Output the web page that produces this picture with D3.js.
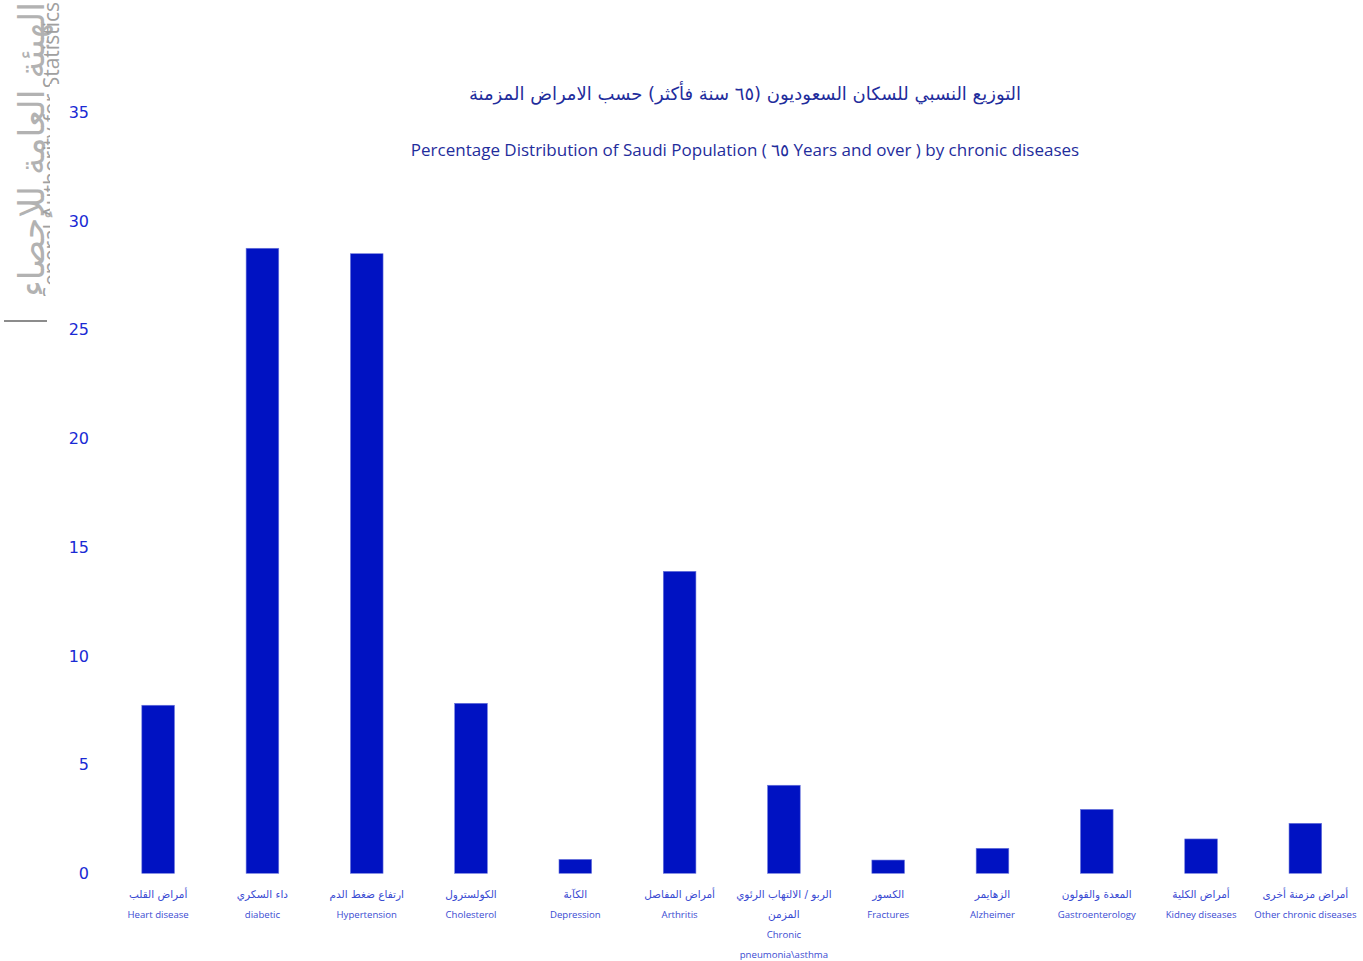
<!DOCTYPE html>
<html>
<head>
<meta charset="utf-8">
<title>Percentage Distribution of Saudi Population by chronic diseases</title>
<style>
  body { margin: 0; background: #fff; }
  svg { display: block; }
  .tick text { font-family: "DejaVu Sans", sans-serif; }
</style>
</head>
<body>
<svg width="1363" height="961"></svg>
<script src="https://d3js.org/d3.v7.min.js"></script>
<script>

// ---- data ----
var categoriesAr = [
  "أمراض القلب", "داء السكري", "ارتفاع ضغط الدم", "الكولسترول", "الكآبة",
  "أمراض المفاصل", "الربو / الالتهاب الرئوي\nالمزمن", "الكسور", "الزهايمر",
  "المعدة والقولون", "أمراض الكلية", "أمراض مزمنة أخرى"
];
var categoriesEn = [
  "Heart disease", "diabetic", "Hypertension", "Cholesterol", "Depression",
  "Arthritis", "Chronic\npneumonia\\asthma", "Fractures", "Alzheimer",
  "Gastroenterology", "Kidney diseases", "Other chronic diseases"
];
var values = [7.73, 28.75, 28.5, 7.82, 0.64, 13.89, 4.05, 0.61, 1.15, 2.94, 1.58, 2.3];
var yTicks = [0, 5, 10, 15, 20, 25, 30, 35];
var titleAr = "التوزيع النسبي للسكان السعوديون (٦٥ سنة فأكثر) حسب الامراض المزمنة";
var titleEn = "Percentage Distribution of Saudi Population ( ٦٥ Years and over )  by chronic diseases";

var svg = d3.select("svg");

var x = d3.scaleBand()
    .domain(d3.range(values.length))
    .range([106, 1357.5])
    .paddingInner(0.687)
    .paddingOuter(0.3435);

var y = d3.scaleLinear()
    .domain([0, 35])
    .range([873.3, 112.4]);

// logo on the left
var logo = svg.append("g");
var defs = svg.append("defs");
defs.append("clipPath").attr("id", "logoClip")
  .append("rect").attr("x", 0).attr("y", 0).attr("width", 64).attr("height", 296);
defs.append("clipPath").attr("id", "enClip")
  .call(function(c) {
    c.append("rect").attr("x", 0).attr("y", 0).attr("width", 64).attr("height", 84);
    c.append("rect").attr("x", 0).attr("y", 84).attr("width", 50).attr("height", 212);
  });
logo.append("g").attr("clip-path", "url(#logoClip)")
  .append("text")
    .attr("transform", "translate(44,2) rotate(-90)")
    .attr("text-anchor", "end")
    .style("font-family", "'DejaVu Sans', sans-serif")
    .style("font-size", "35px")
    .style("fill", "#b2b2b2")
    .text("الهيئة العامة للإحصاء");
logo.append("g").attr("clip-path", "url(#enClip)")
  .append("text")
    .attr("transform", "translate(59,2) rotate(-90)")
    .attr("text-anchor", "end")
    .style("font-family", "'Open Sans', sans-serif")
    .style("font-size", "21px")
    .style("fill", "#a0a0a0")
    .text("General Authority for Statistics");
logo.append("line")
    .attr("x1", 4).attr("x2", 47).attr("y1", 321).attr("y2", 321)
    .style("stroke", "#8c8c8c").style("stroke-width", 2);

// titles
svg.append("text")
    .attr("x", 745).attr("y", 100)
    .attr("text-anchor", "middle")
    .style("font-family", "'DejaVu Sans', sans-serif")
    .style("font-size", "18px")
    .style("fill", "#1f2d9c")
    .text(titleAr);
svg.append("text")
    .attr("x", 745).attr("y", 156)
    .attr("text-anchor", "middle")
    .style("font-family", "'Open Sans', sans-serif")
    .style("font-size", "17px")
    .style("fill", "#1f2d9c")
    .text(titleEn);

// y axis
var yAxis = svg.append("g")
    .attr("transform", "translate(89,0)")
    .call(d3.axisLeft(y).tickValues(yTicks).tickSize(0).tickPadding(0));
yAxis.select(".domain").remove();
yAxis.selectAll("text")
    .style("font-size", "16px")
    .style("fill", "#1a2ad4");

// bars
svg.append("g").selectAll("rect")
  .data(values)
  .enter().append("rect")
    .attr("x", function(d, i) { return x(i); })
    .attr("width", x.bandwidth())
    .attr("y", function(d) { return y(d); })
    .attr("height", function(d) { return y(0) - y(d); })
    .style("fill", "#0012c2")
    .style("stroke", "#6d78dc")
    .style("stroke-width", 0.6);

// category labels
var labels = svg.append("g").selectAll("text")
  .data(values)
  .enter().append("text")
    .attr("text-anchor", "middle")
    .style("font-size", "10px")
    .style("fill", "#3a4bd2");

labels.each(function(d, i) {
  var lines = categoriesAr[i].split("\n").concat(categoriesEn[i].split("\n"));
  var cx = x(i) + x.bandwidth() / 2;
  d3.select(this).selectAll("tspan")
    .data(lines)
    .enter().append("tspan")
      .attr("x", cx)
      .attr("y", function(l, k) { return 898 + k * 20; })
      .style("font-family", function(l) { return /[a-zA-Z]/.test(l) ? "'Open Sans', sans-serif" : "'DejaVu Sans', sans-serif"; })
      .style("font-size", function(l) { return /[a-zA-Z]/.test(l) ? "9.6px" : "10.5px"; })
      .text(function(l) { return l; });
});
</script>
</body>
</html>
